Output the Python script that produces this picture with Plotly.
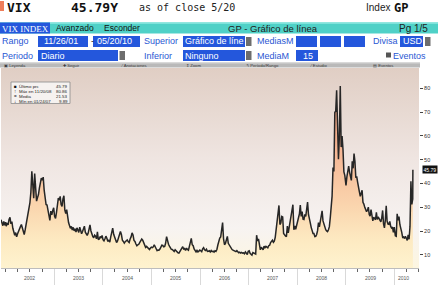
import pandas as pd
import plotly.graph_objects as go

# ---------------- data (weekly VIX closes) ----------------
vix_2001 = [24.8, 23.6, 22.3, 24.1, 22.5, 23.8]
vix_2002 = [22.1, 23.5, 22.6, 24.9,
            25.8, 23.1, 24.0, 21.2,
            19.5, 18.3, 19.4, 17.6, 18.9,
            20.2, 21.0, 21.9, 22.8,
            21.1, 19.7, 18.6, 20.6,
            23.0, 25.6, 28.1, 29.6,
            32.0, 36.4, 45.1, 39.6, 33.8,
            44.2, 36.3, 32.6, 34.1,
            35.4, 38.2, 40.6, 42.3,
            41.4, 42.7, 37.2, 34.0, 31.2,
            31.0, 29.1, 27.2, 24.5,
            28.4, 26.9, 28.6, 29.8]
vix_2003 = [26.2, 25.4, 27.8, 32.6, 33.9,
            33.0, 34.6, 31.2, 30.4,
            33.5, 34.9, 28.8, 27.4, 29.0,
            25.1, 23.6, 22.4, 21.2,
            22.0, 20.5, 21.6, 20.1,
            21.0, 19.6, 21.4, 20.3,
            19.5, 21.7, 20.2, 18.9, 19.9,
            20.8, 22.1, 19.6, 19.0,
            18.2, 19.1, 20.9, 22.6,
            20.2, 18.6, 17.8, 17.2, 18.3,
            17.9, 16.8, 19.7, 16.4,
            16.7, 17.8, 17.1, 18.2]
vix_2004 = [16.4, 15.9, 16.8, 17.9,
            17.0, 15.7, 16.3, 15.4,
            17.6, 19.5, 21.3, 18.7, 17.2,
            16.0, 15.2, 15.9, 17.4,
            18.5, 19.9, 18.6, 16.2,
            15.7, 15.0, 15.6, 15.9,
            16.3, 15.6, 15.2, 16.7, 17.6,
            19.3, 18.4, 16.1, 15.7,
            14.6, 13.9, 14.3, 14.5,
            15.3, 16.1, 16.7, 16.2, 15.1,
            14.0, 13.2, 13.6, 13.1,
            12.7, 12.3, 12.9, 13.3]
vix_2005 = [13.1, 13.4, 14.3, 13.5,
            12.4, 11.8, 12.1, 12.0,
            12.5, 13.3, 14.1, 14.0, 13.4,
            13.6, 15.0, 17.7, 15.3,
            14.5, 13.7, 12.9, 12.4,
            12.3, 11.8, 11.5, 12.2, 11.6,
            11.2, 10.9, 10.8, 11.5,
            12.1, 12.7, 13.5, 12.5,
            12.7, 11.9, 12.9, 12.3, 12.0,
            13.6, 15.6, 17.0, 14.3,
            13.9, 12.5, 11.8, 11.3,
            11.9, 11.3, 11.6, 12.1]
vix_2006 = [11.8, 11.4, 12.6, 13.1,
            12.2, 11.9, 12.4, 11.5,
            11.6, 11.8, 11.3, 11.9, 11.4,
            11.6, 11.2, 11.8, 11.5,
            12.3, 14.2, 16.5, 17.1,
            17.6, 21.4, 23.6, 16.8,
            14.3, 14.9, 16.4, 17.8, 14.9,
            14.2, 13.6, 12.6, 12.3,
            12.0, 11.9, 11.6, 11.4, 11.8,
            11.5, 10.9, 11.2, 10.8,
            11.1, 10.8, 10.9, 10.5,
            11.3, 10.4, 10.2, 11.6]
vix_2007 = [11.8, 10.7, 10.3, 9.9, 11.0,
            10.8, 10.6, 10.4, 18.3,
            15.9, 16.8, 13.6, 12.2,
            13.3, 12.8, 12.2, 13.7,
            13.1, 13.6, 13.1, 13.0, 13.9,
            14.1, 15.2, 15.9, 16.2,
            15.3, 15.8, 17.4, 20.7, 23.5,
            25.1, 30.8, 22.8, 23.4,
            26.2, 26.0, 19.0, 18.3,
            18.0, 17.7, 22.1, 19.3, 21.6,
            23.2, 25.5, 28.1, 31.1,
            20.6, 22.2, 20.8, 22.5]
vix_2008 = [23.2, 25.4, 27.2, 31.0, 26.2,
            28.2, 25.0, 24.9, 27.0,
            26.2, 28.9, 32.2, 27.0, 25.6,
            23.5, 21.6, 20.2, 19.0,
            19.0, 17.7, 17.8, 18.6,
            20.2, 23.6, 21.8, 23.8,
            25.4, 28.5, 24.3, 22.8,
            21.5, 20.6, 20.1, 19.8, 20.6,
            21.9, 25.7, 32.1, 34.7, 46.7,
            45.1, 69.9, 70.3, 79.1, 59.9,
            50.2, 59.8, 80.9, 55.3,
            59.9, 54.3, 44.9, 43.4, 40.0]
vix_2009 = [39.2, 42.8, 46.1, 47.3, 44.8,
            43.4, 41.3, 49.3, 46.4,
            52.6, 49.3, 42.4, 43.0, 40.6,
            37.3, 36.5, 34.6, 35.8,
            37.2, 32.1, 31.4, 30.0, 28.9,
            28.2, 28.8, 30.1, 27.0, 26.3,
            29.1, 26.7, 24.3, 25.9,
            25.0, 24.8, 27.9, 24.9, 26.0,
            25.3, 24.2, 23.9, 25.6,
            28.7, 23.1, 21.4, 24.6, 30.7,
            24.2, 23.0, 22.9, 24.1,
            22.0, 21.3, 21.7, 19.5, 21.7]
vix_2010 = [18.1, 17.9, 27.3, 24.6,
            26.1, 22.7, 20.0, 19.5,
            17.4, 17.6, 16.9, 17.8,
            17.0, 16.1, 18.4, 16.6, 22.0,
            40.9, 31.2, 33.5]
year_values = [vix_2001, vix_2002, vix_2003, vix_2004, vix_2005,
               vix_2006, vix_2007, vix_2008, vix_2009, vix_2010]
year_spans = [("2001-11-26", "2001-12-31"), ("2002-01-04", "2002-12-27"),
              ("2003-01-03", "2003-12-26"), ("2004-01-02", "2004-12-31"),
              ("2005-01-07", "2005-12-30"), ("2006-01-06", "2006-12-29"),
              ("2007-01-05", "2007-12-28"), ("2008-01-04", "2008-12-31"),
              ("2009-01-02", "2009-12-31"), ("2010-01-08", "2010-05-19")]
last_date = "2010-05-20"
last_value = 45.79

stat_labels = ["Último prc", "Máx en 11/20/08", "Media", "Mín en 01/24/07"]
stat_values = ["45.79", "80.86", "21.53", "9.89"]
stat_marks = ["■", "↑", "=", "↓"]

y_ticks = [10, 20, 30, 40, 50, 60, 70, 80]
year_labels = ["2002", "2003", "2004", "2005", "2006", "2007", "2008", "2009", "2010"]
year_label_dates = ["2002-07-02", "2003-07-02", "2004-07-02", "2005-07-02", "2006-07-02",
                    "2007-07-02", "2008-07-02", "2009-07-02", "2010-03-12"]
year_grid = ["2003-01-01", "2004-01-01", "2005-01-01", "2006-01-01",
             "2007-01-01", "2008-01-01", "2009-01-01", "2010-01-01"]

# ---------------- build series ----------------
dates, values = [], []
for (s, e), vals in zip(year_spans, year_values):
    dates += list(pd.date_range(s, e, periods=len(vals)))
    values += vals
dates.append(pd.Timestamp(last_date))
values.append(last_value)

# ---------------- layout geometry ----------------
W, H = 438, 285
L, R, T, B = 1, 19, 68, 17
PW, PH = W - L - R, H - T - B
X_RANGE = ["2001-11-26", "2010-07-05"]
Y_RANGE = [4.54, 88.5]


def fx(px):
    return (px - L) / PW


def fy(py):
    return (H - B - py) / PH


shapes, anns = [], []


def rect(x0, y0, x1, y1, color, lc=None, lw=0):
    shapes.append(dict(type="rect", xref="paper", yref="paper", x0=fx(x0), x1=fx(x1),
                       y0=fy(y1), y1=fy(y0), fillcolor=color,
                       line=dict(width=lw, color=lc or color), layer="above"))


def txt(s, x, y, size, color="#000", family="Liberation Sans", anchor="left"):
    anns.append(dict(text=s, x=fx(x), y=fy(y), xref="paper", yref="paper", xanchor=anchor,
                     yanchor="middle", showarrow=False, borderpad=0,
                     font=dict(size=size, color=color, family=family)))


BLUE_BOX = "#2457dc"
BLUE_TXT = "#2a57d3"
MONO = "DejaVu Sans Mono"
FS = 9

# title row
rect(0, 1, 4, 11, "#ee7d5a")
txt("<b>VIX</b>", 6, 7.5, 13, "#111", MONO)
txt("<b>45.79Y</b>", 70, 7.5, 13, "#111", MONO)
txt("as of close 5/20", 138, 7.5, 10, "#222", MONO)
txt("Index", 365, 7.5, 10, "#222")
txt("<b>GP</b>", 393, 7.5, 12, "#111", MONO)

# teal header bar
rect(0, 22.5, 438, 33.5, "#4fd1c7")
rect(0, 22.5, 438, 24, "#7fe3db")
rect(0, 22.5, 50, 33.5, BLUE_BOX)
txt("VIX INDEX", 1, 28.5, 9, "#fff", "Liberation Serif")
txt("Avanzado", 55, 28, 8.5, "#111")
txt("Esconder", 103, 28, 8.5, "#111")
txt("GP - Gráfico de línea", 273, 28.3, 9.5, "#222", anchor="center")
txt("Pg 1/5", 398, 28.5, 10, "#222")

# row 2
txt("Rango", 1, 41.5, FS, BLUE_TXT)
rect(38, 36, 88, 47, BLUE_BOX)
txt("11/26/01", 43, 41.5, FS, "#fff")
txt("-", 89.5, 41.5, FS, "#222")
rect(93, 36, 140, 47, BLUE_BOX)
txt("05/20/10", 96, 41.5, FS, "#fff")
txt("Superior", 143, 41.5, FS, BLUE_TXT)
rect(183, 36, 245, 47, BLUE_BOX)
txt("Gráfico de líne", 184, 41.5, FS, "#fff")
rect(246, 37, 251.5, 46, "#6d6d6d")
txt("MediasM", 256, 41.5, FS, BLUE_TXT)
rect(296, 36, 317, 47, BLUE_BOX)
rect(320, 36, 341, 47, BLUE_BOX)
rect(344, 36, 365, 47, BLUE_BOX)
txt("Divisa", 372, 41.5, FS, BLUE_TXT)
rect(400, 36, 423, 47, BLUE_BOX)
txt("USD", 402, 41.5, FS, "#fff")
rect(425, 37, 430.5, 46, "#6d6d6d")

# row 3
txt("Periodo", 1, 55.5, FS, BLUE_TXT)
rect(38, 50, 118, 61, BLUE_BOX)
txt("Diario", 40, 55.5, FS, "#fff")
rect(119.5, 51, 125, 60, "#6d6d6d")
txt("Inferior", 143, 55.5, FS, BLUE_TXT)
rect(183, 50, 245, 61, BLUE_BOX)
txt("Ninguno", 184, 55.5, FS, "#fff")
rect(246, 51, 251.5, 60, "#6d6d6d")
txt("MediaM", 256, 55.5, FS, BLUE_TXT)
rect(296, 50, 318, 61, BLUE_BOX)
txt("15", 314, 55.5, FS, "#fff", anchor="right")
rect(386, 52.5, 391, 57.5, "#555")
txt("Eventos", 392, 55.5, FS, BLUE_TXT)

# toolbar
rect(0, 62.5, 420, 67.5, "#b9b9b9")
rect(0, 62.5, 420, 63.5, "#d6d6d6")
tool_items = ["▣ Leyenda", "✚ Seguir", "⁄ Anotaciones", "⇕ Zoom", "↰ Período/Rango", "⁄ Estudio", "▤ Eventos"]
tool_x = [3, 62, 120, 185, 245, 309, 372]
for s, x in zip(tool_items, tool_x):
    txt(s, x, 65.2, 4.2, "#3a3a3a")

# legend box in the plot
rect(11, 82, 70, 103.5, "#f6f2f0", "#8c8c8c", 0.8)
for i, (m, lab, val) in enumerate(zip(stat_marks, stat_labels, stat_values)):
    yy = 86.5 + i * 4.9
    txt(m, 12.5, yy, 4.6, "#111")
    txt(lab, 17.5, yy, 4.4, "#222")
    txt(val, 68.5, yy, 4.4, "#222", anchor="right")

# year labels under x axis
for lab, d in zip(year_labels, year_label_dates):
    anns.append(dict(text=lab, x=d, xref="x", y=fy(278), yref="paper", showarrow=False,
                     xanchor="center", yanchor="middle", font=dict(size=5, color="#555",
                     family="Liberation Sans")))

# last price tag on y axis
anns.append(dict(text="45.79", x=fx(421.5), xref="paper", y=last_value, yref="y",
                 xanchor="left", yanchor="middle", showarrow=False, bgcolor="#111",
                 borderpad=0.6, font=dict(size=5, color="#fff", family="Liberation Sans")))

# ---------------- figure ----------------
fig = go.Figure()
fig.add_trace(go.Scatter(
    x=X_RANGE, y=[Y_RANGE[1], Y_RANGE[1]], mode="none", fill="tozeroy",
    fillgradient=dict(type="vertical", start=Y_RANGE[0], stop=Y_RANGE[1],
                      colorscale=[[0, "#fdf6e0"], [0.2, "#f7f3f1"], [0.55, "#efe5e1"],
                                  [1, "#e0cec4"]]),
    hoverinfo="skip", showlegend=False))
fig.add_trace(go.Scatter(
    x=dates, y=values, mode="lines", line=dict(color="#262626", width=1.5),
    fill="tozeroy",
    fillgradient=dict(type="vertical", start=Y_RANGE[0], stop=81,
                      colorscale=[[0, "#fef3cf"], [0.15, "#fdeac2"], [0.35, "#fad4ad"],
                                  [0.6, "#f6ba98"], [1, "#f09a78"]]),
    showlegend=False))

fig.update_layout(
    width=W, height=H, margin=dict(l=L, r=R, t=T, b=B),
    paper_bgcolor="#ffffff", plot_bgcolor="#ffffff",
    shapes=shapes, annotations=anns, showlegend=False,
    xaxis=dict(type="date", range=X_RANGE, tickmode="array", tickvals=year_grid,
               showticklabels=False, showgrid=True, gridcolor="#d3cbc8", gridwidth=1,
               ticks="outside", ticklen=17, tickcolor="#d9d9d9", tickwidth=1,
               minor=dict(ticks="outside", ticklen=3, tickcolor="#666", dtick="M3",
                          tick0="2002-01-01", showgrid=False),
               showline=True, linecolor="#bdbdbd", linewidth=1, zeroline=False),
    yaxis=dict(side="right", range=Y_RANGE, tickmode="array", tickvals=y_ticks,
               ticks="outside", ticklen=3, tickcolor="#444",
               tickfont=dict(size=5.5, color="#333", family="Liberation Sans"),
               showgrid=True, gridcolor="#d3cbc8", gridwidth=1, zeroline=False,
               showline=False),
)

fig.write_html("out.html")
